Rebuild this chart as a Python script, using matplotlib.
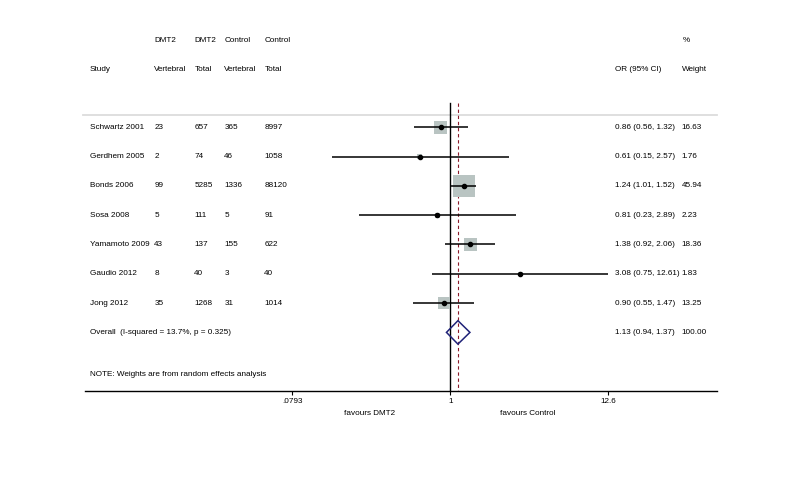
import numpy as np
import matplotlib.pyplot as plt
from matplotlib.transforms import blended_transform_factory

plt.rcParams['font.family'] = ['Liberation Sans', 'DejaVu Sans']

# ---------------- data ----------------
studies = ["Schwartz 2001", "Gerdhem 2005", "Bonds 2006", "Sosa 2008",
           "Yamamoto 2009", "Gaudio 2012", "Jong 2012"]
dmt2_vert = [23, 2, 99, 5, 43, 8, 35]
dmt2_total = [657, 74, 5285, 111, 137, 40, 1268]
ctrl_vert = [365, 46, 1336, 5, 155, 3, 31]
ctrl_total = [8997, 1058, 88120, 91, 622, 40, 1014]
odds = [0.86, 0.61, 1.24, 0.81, 1.38, 3.08, 0.90]
lower = [0.56, 0.15, 1.01, 0.23, 0.92, 0.75, 0.55]
upper = [1.32, 2.57, 1.52, 2.89, 2.06, 12.61, 1.47]
weights = [16.63, 1.76, 45.94, 2.23, 18.36, 1.83, 13.25]

overall_or, overall_lo, overall_hi = 1.13, 0.94, 1.37
overall_label = "Overall  (I-squared = 13.7%, p = 0.325)"
note = "NOTE: Weights are from random effects analysis"
xticks = [0.0793, 1, 12.6]
xtick_labels = [".0793", "1", "12.6"]

# ---------------- figure ----------------
fig = plt.figure(figsize=(7.91, 4.86), dpi=100)
ax = fig.add_axes([85 / 791, (486 - 390.7) / 486, (716.7 - 85) / 791, 370.7 / 486])
ax.set_xscale("log")
ax.set_xlim(np.exp(-5.864), np.exp(4.276))
ax.set_ylim(8.99, -3.66)

for s in ["top", "right", "left"]:
    ax.spines[s].set_visible(False)
ax.spines["bottom"].set_linewidth(1.0)
ax.set_yticks([])
ax.set_xticks(xticks)
ax.set_xticklabels(xtick_labels)
ax.minorticks_off()
ax.tick_params(axis="x", length=3, width=0.8, pad=2, labelsize=5.9)

fs = 5.9
rows = np.arange(len(studies))
tr = blended_transform_factory(ax.transAxes, ax.transData)

def colx(px):
    return (px - 85) / (716.7 - 85)

# header
ax.text(colx(154.3), -2.96, "DMT2", transform=tr, fontsize=fs, va="center")
ax.text(colx(194.3), -2.96, "DMT2", transform=tr, fontsize=fs, va="center")
ax.text(colx(224.3), -2.96, "Control", transform=tr, fontsize=fs, va="center")
ax.text(colx(264.3), -2.96, "Control", transform=tr, fontsize=fs, va="center")
ax.text(colx(683), -2.96, "%", transform=tr, fontsize=fs, va="center")
ax.text(colx(90), -1.96, "Study", transform=tr, fontsize=fs, va="center")
ax.text(colx(154.3), -1.96, "Vertebral", transform=tr, fontsize=fs, va="center")
ax.text(colx(194.3), -1.96, "Total", transform=tr, fontsize=fs, va="center")
ax.text(colx(224.3), -1.96, "Vertebral", transform=tr, fontsize=fs, va="center")
ax.text(colx(264.3), -1.96, "Total", transform=tr, fontsize=fs, va="center")
ax.text(colx(615), -1.96, "OR (95% CI)", transform=tr, fontsize=fs, va="center")
ax.text(colx(681.7), -1.96, "Weight", transform=tr, fontsize=fs, va="center")
ax.plot([colx(83), colx(717)], [-0.42, -0.42], transform=tr, color="#dcdcdc",
        lw=1.3, clip_on=False)

# reference lines
ax.plot([1, 1], [-0.83, 8.99], color="black", lw=1.0)
ax.plot([overall_or, overall_or], [-0.83, 8.99], color="#8b1a2a", lw=0.8,
        dashes=(3, 2.5))

# study rows
for i in rows:
    ax.text(colx(90), i, studies[i], transform=tr, fontsize=fs, va="center")
    ax.text(colx(154.3), i, str(dmt2_vert[i]), transform=tr, fontsize=fs, va="center")
    ax.text(colx(194.3), i, str(dmt2_total[i]), transform=tr, fontsize=fs, va="center")
    ax.text(colx(224.3), i, str(ctrl_vert[i]), transform=tr, fontsize=fs, va="center")
    ax.text(colx(264.3), i, str(ctrl_total[i]), transform=tr, fontsize=fs, va="center")
    ax.text(colx(615), i, f"{odds[i]:.2f} ({lower[i]:.2f}, {upper[i]:.2f})",
            transform=tr, fontsize=fs, va="center")
    ax.text(colx(681.7), i, f"{weights[i]:.2f}", transform=tr, fontsize=fs, va="center")

side = 15.6 * np.sqrt(np.array(weights) / 45.94)
ax.scatter(odds, rows, marker="s", s=side ** 2, color="#b9c4c2", lw=0, zorder=2)
ax.hlines(rows, lower, upper, color="black", lw=1.1, zorder=3)
ax.plot(odds, rows, "o", color="black", ms=3, zorder=4)

# overall
oy = len(studies)
ax.fill([overall_lo, overall_or, overall_hi, overall_or],
        [oy, oy - 0.4, oy, oy + 0.4], facecolor="none", edgecolor="#1f2278",
        lw=1.1, zorder=5)
ax.text(colx(90), oy, overall_label, transform=tr, fontsize=fs, va="center")
ax.text(colx(615), oy, f"{overall_or:.2f} ({overall_lo:.2f}, {overall_hi:.2f})",
        transform=tr, fontsize=fs, va="center")
ax.text(colx(681.7), oy, "100.00", transform=tr, fontsize=fs, va="center")

ax.text(colx(90), 8.45, note, transform=tr, fontsize=fs, va="center")

# favours labels
ax.text(0.2756, 9.77, "favours DMT2", fontsize=fs, ha="center", va="center", clip_on=False)
ax.text(3.48, 9.77, "favours Control", fontsize=fs, ha="center", va="center", clip_on=False)

fig.savefig("out.png", dpi=100)
